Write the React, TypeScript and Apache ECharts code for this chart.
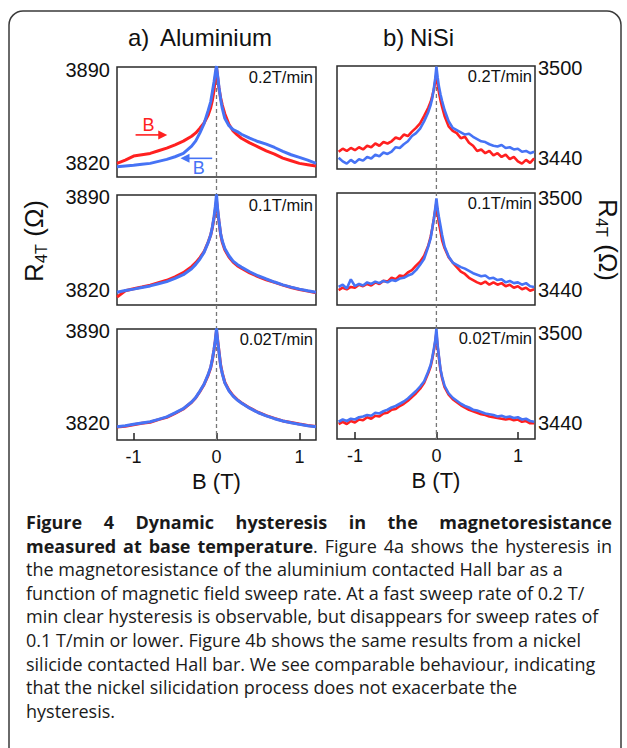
import React, { useEffect, useRef } from 'react';
import * as echarts from 'echarts';

// ---------- data ----------
const XL = [-1.2, -1.1, -1.0, -0.9, -0.8, -0.7, -0.6, -0.5, -0.4, -0.3, -0.25, -0.2, -0.15, -0.1, -0.07, -0.05, -0.03, -0.015, 0, 0.015, 0.03, 0.05, 0.07, 0.1, 0.15, 0.2, 0.25, 0.3, 0.4, 0.5, 0.6, 0.7, 0.8, 0.9, 1.0, 1.1, 1.2];
const XR = [-1.2, -1.15, -1.1, -1.05, -1.0, -0.95, -0.9, -0.85, -0.8, -0.75, -0.7, -0.65, -0.6, -0.55, -0.5, -0.45, -0.4, -0.35, -0.3, -0.25, -0.2, -0.15, -0.1, -0.07, -0.05, -0.03, -0.015, 0, 0.015, 0.03, 0.05, 0.07, 0.1, 0.15, 0.2, 0.25, 0.3, 0.35, 0.4, 0.45, 0.5, 0.55, 0.6, 0.65, 0.7, 0.75, 0.8, 0.85, 0.9, 0.95, 1.0, 1.05, 1.1, 1.15, 1.2];

// Aluminium (left column)
const AL02_UP = [3819.5, 3822, 3825, 3826, 3827, 3829, 3831, 3833.5, 3836.3, 3840, 3842.5, 3846, 3850, 3856, 3861.5, 3867, 3874.5, 3884, 3892, 3884, 3876, 3869, 3863.5, 3857, 3849, 3844, 3841, 3838.5, 3835, 3832, 3829, 3826.5, 3823.5, 3821.5, 3819.5, 3818.5, 3817.5];
const AL02_DOWN = [3817, 3817.5, 3818, 3818.8, 3819.5, 3821, 3822.5, 3824.5, 3827, 3832.5, 3836.5, 3842.5, 3849.5, 3859.5, 3866, 3873.5, 3881, 3887.5, 3893, 3885, 3877, 3868, 3861, 3853.5, 3848, 3845, 3843.5, 3841.5, 3838.5, 3836, 3834, 3831.5, 3828.5, 3826, 3824, 3822, 3819.5];
const AL01_UP = [3815, 3819.8, 3821.3, 3822.6, 3824, 3825.8, 3827.6, 3830.2, 3833.3, 3837.8, 3840.8, 3844.6, 3849, 3856.3, 3861.5, 3867, 3874, 3880, 3887, 3879.5, 3871.5, 3862, 3856, 3850.5, 3845, 3841.2, 3838.6, 3836.6, 3833.2, 3830.4, 3828, 3826, 3824, 3822.2, 3820.7, 3819.5, 3818.3];
const AL01_DOWN = [3818.7, 3820, 3821, 3822.2, 3823.4, 3825, 3826.6, 3829, 3831.8, 3836.3, 3839.5, 3843.5, 3848.5, 3856, 3861.5, 3867.5, 3875, 3882.5, 3892, 3880, 3872, 3862.5, 3857, 3851.5, 3846, 3842, 3839.5, 3837.5, 3834, 3831, 3828.6, 3826.3, 3824.2, 3822.5, 3821, 3819.8, 3818.7];
const AL002_UP = [3817, 3817.6, 3818.7, 3819.8, 3820.6, 3822.6, 3824.3, 3827.4, 3830.7, 3835.8, 3839.2, 3844, 3849.3, 3856.5, 3862, 3868, 3875.5, 3882, 3890, 3882.5, 3874.5, 3864, 3858, 3851, 3845, 3840.8, 3837.8, 3835.5, 3831.5, 3828.2, 3825.6, 3823.5, 3821.6, 3820.4, 3819.2, 3818.2, 3817.4];
const AL002_DOWN = [3817.2, 3818, 3819, 3820, 3821, 3822.8, 3824.7, 3827.7, 3831, 3836, 3839.5, 3844.3, 3849.5, 3857, 3862.5, 3868.5, 3876, 3883, 3892, 3882, 3874, 3863.5, 3857.5, 3850.5, 3844.5, 3840.5, 3837.5, 3835.2, 3831.3, 3828, 3825.5, 3823.3, 3821.5, 3820.2, 3819, 3818, 3817.2];

// NiSi (right column)
const NS02_UP = [3444, 3446, 3444.5, 3446.5, 3445, 3447, 3445.5, 3448, 3447, 3449.5, 3448, 3450.5, 3449.5, 3451, 3453.5, 3452.5, 3455.5, 3454.5, 3457.5, 3460, 3463, 3468, 3473.5, 3477.5, 3481.5, 3486, 3491, 3496, 3489, 3484, 3478.5, 3474, 3468, 3461, 3458, 3456.5, 3453, 3454, 3450, 3448, 3444.5, 3445.5, 3443, 3444.5, 3441.5, 3443, 3440.5, 3442, 3439, 3440.5, 3437.5, 3436, 3438.5, 3436.5, 3439.5];
const NS02_DOWN = [3440, 3437.5, 3436, 3438.5, 3436.5, 3439, 3438, 3440.5, 3439.5, 3442, 3441, 3443.5, 3442.5, 3444, 3447, 3446.5, 3449, 3451, 3454.5, 3456.5, 3459.5, 3464.5, 3470.5, 3475.5, 3480, 3487, 3493, 3501, 3494, 3488, 3482.5, 3478, 3472, 3464.5, 3460, 3458.5, 3457, 3455.5, 3456, 3454, 3452.5, 3451, 3450.5, 3449, 3448, 3447.5, 3448.5, 3446.5, 3447, 3445.5, 3446, 3444, 3444.5, 3443, 3444];
const NS01_UP = [3440, 3441.5, 3440.5, 3442, 3441.5, 3443.5, 3442.5, 3444, 3443, 3445, 3444, 3446, 3445.5, 3448, 3447, 3449.5, 3449, 3451.5, 3453, 3456, 3458.5, 3462.5, 3469, 3475, 3480.5, 3487, 3492, 3497, 3490, 3484, 3478.5, 3472.5, 3467.5, 3461.5, 3458, 3455, 3452, 3450.5, 3448, 3446.5, 3445, 3444, 3445.5, 3443.5, 3445, 3443.5, 3444.5, 3442.5, 3443.5, 3441.5, 3442.5, 3440.5, 3441.5, 3439.5, 3440.5];
const NS01_DOWN = [3442, 3443.5, 3441, 3447, 3442.5, 3444, 3443, 3445, 3444, 3445.5, 3444.5, 3446, 3445, 3446.5, 3446, 3447.5, 3448, 3449.5, 3450.5, 3453, 3456.5, 3460.5, 3468.5, 3474, 3480.5, 3487, 3493, 3500, 3493, 3488, 3482, 3476, 3468.5, 3462, 3458, 3456.5, 3455, 3454, 3452.5, 3451, 3450, 3449, 3449.5, 3447.5, 3448, 3446.5, 3447, 3445, 3446, 3444.5, 3445, 3443.5, 3444.5, 3442.5, 3442];
const NS002_UP = [3439.5, 3441, 3439.5, 3441.5, 3440.5, 3442.5, 3442, 3444, 3443, 3445, 3444.5, 3446.5, 3447, 3449, 3449.5, 3451.5, 3453, 3455, 3457.5, 3460, 3463, 3467, 3473.5, 3478, 3483, 3489, 3494, 3500, 3491, 3484, 3475.5, 3470, 3464, 3459, 3456, 3454, 3452, 3450.5, 3449, 3448, 3447, 3446, 3445.5, 3444.5, 3444, 3443.5, 3443, 3442.5, 3443, 3442, 3442.5, 3441, 3441.5, 3440, 3440];
const NS002_DOWN = [3441, 3442.5, 3441.5, 3443, 3442.5, 3444, 3444.5, 3445.5, 3445, 3447, 3446.5, 3448, 3449, 3450.5, 3451.5, 3453, 3454.5, 3456.5, 3459, 3461.5, 3464.5, 3468, 3474.5, 3479, 3484, 3490, 3495, 3503, 3492, 3485, 3476, 3471, 3465, 3460, 3457, 3455, 3453, 3451.5, 3450.5, 3449, 3448.5, 3447.5, 3446.5, 3446, 3445.5, 3444.5, 3445, 3444, 3444.5, 3443.5, 3444, 3442.5, 3443, 3441.5, 3441];

const LEFT_TICKS = [3820, 3890];
const RIGHT_TICKS = [3440, 3500];
const X_TICKS = [-1, 0, 1];
const RATES = ['0.2T/min', '0.1T/min', '0.02T/min'];

const CAPTION: [string, boolean][][] = [
  [['Figure 4 Dynamic hysteresis in the magnetoresistance', true]],
  [['measured at base temperature', true], ['. Figure 4a shows the hysteresis in', false]],
  [['the magnetoresistance of the aluminium contacted Hall bar as a', false]],
  [['function of magnetic field sweep rate. At a fast sweep rate of 0.2 T/', false]],
  [['min clear hysteresis is observable, but disappears for sweep rates of', false]],
  [['0.1 T/min or lower. Figure 4b shows the same results from a nickel', false]],
  [['silicide contacted Hall bar. We see comparable behaviour, indicating', false]],
  [['that the nickel silicidation process does not exacerbate the', false]],
  [['hysteresis.', false]],
];
const JUSTIFY = [true, true, false, false, false, false, false, false, false];

// ---------- layout / style ----------
const RED = '#ff2020';
const BLUE = '#4673f5';
const ARIAL = 'Arial, "Liberation Sans", sans-serif';
const CAP_FONT = '"Open Sans", sans-serif';
const CAP_SIZE = 18;
const CAP_LEFT = 26;
const CAP_RIGHT = 612;
const CAP_Y0 = 522;
const CAP_DY = 23.6;

const GRIDS = [
  { left: 117, top: 67, width: 199, height: 110 },
  { left: 117, top: 195, width: 199, height: 110 },
  { left: 117, top: 329, width: 199, height: 111 },
  { left: 337, top: 66, width: 198, height: 103 },
  { left: 337, top: 193, width: 198, height: 112 },
  { left: 337, top: 328, width: 198, height: 111 },
];
const YRANGE = [
  [3809.2, 3892.3],
  [3809.1, 3891.5],
  [3807.1, 3891.5],
  [3432.4, 3501.5],
  [3430.2, 3503.5],
  [3429.5, 3503.5],
];

const PANELS = [
  { x: XL, up: AL02_UP, down: AL02_DOWN },
  { x: XL, up: AL01_UP, down: AL01_DOWN },
  { x: XL, up: AL002_UP, down: AL002_DOWN },
  { x: XR, up: NS02_UP, down: NS02_DOWN },
  { x: XR, up: NS01_UP, down: NS01_DOWN },
  { x: XR, up: NS002_UP, down: NS002_DOWN },
];

function buildCaption(): any[] {
  const ctx = document.createElement('canvas').getContext('2d')!;
  const meas = (t: string, b: boolean) => {
    ctx.font = `${b ? 'bold ' : ''}${CAP_SIZE}px ${CAP_FONT}`;
    return ctx.measureText(t).width;
  };
  const mk = (x: number, y: number, t: string, b: boolean) => ({
    type: 'text', x, y, silent: true,
    style: { text: t, fontSize: CAP_SIZE, fontFamily: CAP_FONT, fontWeight: b ? 'bold' : 'normal', fill: '#1a1a1a', textAlign: 'left', textVerticalAlign: 'middle' },
  });
  const els: any[] = [];
  CAPTION.forEach((line, li) => {
    const y = CAP_Y0 + li * CAP_DY;
    if (JUSTIFY[li]) {
      const words: [string, boolean][][] = [];
      line.forEach(([t, b]) => {
        t.split(' ').forEach((tok, k) => {
          if (tok === '') return;
          if (k === 0 && words.length && !t.startsWith(' ')) words[words.length - 1].push([tok, b]);
          else words.push([[tok, b]]);
        });
      });
      const ww = words.map((w) => w.reduce((s, [t, b]) => s + meas(t, b), 0));
      const total = ww.reduce((a, b) => a + b, 0);
      const gap = Math.max(3, (CAP_RIGHT - CAP_LEFT - total) / (words.length - 1));
      let x = CAP_LEFT;
      words.forEach((w, i) => {
        let px = x;
        w.forEach(([t, b]) => {
          els.push(mk(px, y, t, b));
          px += meas(t, b);
        });
        x += ww[i] + gap;
      });
    } else {
      let x = CAP_LEFT;
      line.forEach(([t, b]) => {
        els.push(mk(x, y, t, b));
        x += meas(t, b);
      });
    }
  });
  return els;
}

function yTitle(x: number, y: number, rot: number) {
  const st = (t: string, fs: number) => ({ text: t, fontSize: fs, fontFamily: ARIAL, fill: '#111', textAlign: 'left', textVerticalAlign: 'middle' });
  return {
    type: 'group', x, y, rotation: rot, silent: true,
    children: [
      { type: 'text', x: -42, y: 0, style: st('R', 26) },
      { type: 'text', x: -23, y: 7, style: st('4T', 16) },
      { type: 'text', x: -4, y: 0, style: st(' (Ω)', 26) },
    ],
  };
}

export default function App() {
  const ref = useRef<HTMLDivElement>(null);
  useEffect(() => {
    document.body.style.margin = '0';
    const chart = echarts.init(ref.current!, null, { renderer: 'svg' });

    const grid = GRIDS.map((g) => ({ ...g, show: true, borderColor: '#2a2a2a', borderWidth: 1.5, backgroundColor: 'transparent', containLabel: false }));
    const xAxis = GRIDS.map((_, i) => {
      const left = i < 3;
      const bottom = i === 2 || i === 5;
      return {
        type: 'value', gridIndex: i,
        min: left ? -1.2 : -1.22, max: left ? 1.2 : 1.21,
        axisLine: { show: false },
        splitLine: { show: false },
        axisTick: { show: bottom, inside: true, length: 7, customValues: X_TICKS, lineStyle: { color: '#222', width: 1.5 } },
        axisLabel: { show: bottom, customValues: X_TICKS, formatter: (v: number) => String(v), fontSize: 18, fontFamily: ARIAL, color: '#111', margin: 8 },
        name: bottom ? 'B (T)' : '', nameLocation: 'middle', nameGap: 30,
        nameTextStyle: { fontSize: 22, fontFamily: ARIAL, color: '#111' },
      };
    });
    const yAxis = GRIDS.map((_, i) => {
      const left = i < 3;
      return {
        type: 'value', gridIndex: i, position: left ? 'left' : 'right',
        min: YRANGE[i][0], max: YRANGE[i][1],
        axisLine: { show: false }, axisTick: { show: false }, splitLine: { show: false },
        axisLabel: { customValues: left ? LEFT_TICKS : RIGHT_TICKS, formatter: (v: number) => String(v), fontSize: 20, fontFamily: ARIAL, color: '#111', margin: left ? 7 : 3 },
      };
    });
    const series: any[] = [];
    PANELS.forEach((p, i) => {
      const w = i < 3 ? 3 : 2.6;
      series.push({
        type: 'line', xAxisIndex: i, yAxisIndex: i, showSymbol: false, clip: false,
        data: p.x.map((x, k) => [x, p.up[k]]), lineStyle: { color: RED, width: w }, itemStyle: { color: RED }, z: 2,
      });
      series.push({
        type: 'line', xAxisIndex: i, yAxisIndex: i, showSymbol: false, clip: false,
        data: p.x.map((x, k) => [x, p.down[k]]), lineStyle: { color: BLUE, width: w }, itemStyle: { color: BLUE }, z: 3,
      });
    });

    chart.setOption({
      animation: false,
      backgroundColor: '#fff',
      grid, xAxis, yAxis, series,
    });

    const px = (g: number, x: number, y: number) => chart.convertToPixel({ gridIndex: g } as any, [x, y]) as number[];
    const graphic: any[] = [];
    graphic.push({ type: 'rect', shape: { x: 9, y: 11, width: 612, height: 770, r: 14 }, style: { fill: 'none', stroke: '#3a3a3a', lineWidth: 1.5 }, silent: true, z: 0 });
    const title = (x: number, t: string) => ({ type: 'text', x, y: 37, style: { text: t, fontSize: 24, fontFamily: ARIAL, fill: '#111', textAlign: 'left', textVerticalAlign: 'middle' } });
    graphic.push(title(128, 'a)'), title(160, 'Aluminium'), title(383, 'b)'), title(410, 'NiSi'));
    graphic.push(yTitle(34, 240, Math.PI / 2), yTitle(608, 241, -Math.PI / 2));
    GRIDS.forEach((g, i) => {
      graphic.push({ type: 'text', x: g.left + g.width - 3, y: g.top + 10, style: { text: RATES[i % 3], fontSize: 16.5, fontFamily: ARIAL, fill: '#111', textAlign: 'right', textVerticalAlign: 'middle' }, z: 10 });
    });
    // dashed zero-field lines across each column
    [[0, 2], [3, 5]].forEach(([a, b]) => {
      const top = px(a, 0, YRANGE[a][1]);
      const bot = px(b, 0, YRANGE[b][0]);
      graphic.push({ type: 'line', shape: { x1: top[0], y1: top[1], x2: bot[0], y2: bot[1] }, style: { stroke: '#777', lineWidth: 1.3, lineDash: [4, 3] }, z: 1, silent: true });
    });
    // sweep-direction arrows in panel a (0.2T/min)
    const arrow = (x1: number, x2: number, yv: number, color: string) => {
      const p1 = px(0, x1, yv), p2 = px(0, x2, yv);
      const dir = Math.sign(p2[0] - p1[0]);
      graphic.push({ type: 'line', shape: { x1: p1[0], y1: p1[1], x2: p2[0] - dir * 6, y2: p2[1] }, style: { stroke: color, lineWidth: 1.6 }, z: 20 });
      graphic.push({ type: 'polygon', shape: { points: [[p2[0], p2[1]], [p2[0] - dir * 9, p2[1] - 4.5], [p2[0] - dir * 9, p2[1] + 4.5]] }, style: { fill: color }, z: 20 });
    };
    arrow(-0.976, -0.594, 3841, RED);
    arrow(-0.052, -0.434, 3823.3, BLUE);
    const bl = (xv: number, yv: number, color: string) => {
      const p = px(0, xv, yv);
      graphic.push({ type: 'text', x: p[0], y: p[1], style: { text: 'B', fontSize: 18, fontFamily: ARIAL, fill: color, textAlign: 'center', textVerticalAlign: 'middle' }, z: 20 });
    };
    bl(-0.82, 3848.5, RED);
    bl(-0.213, 3815.8, BLUE);
    graphic.push(...buildCaption());

    chart.setOption({ graphic });
    return () => chart.dispose();
  }, []);
  return <div ref={ref} style={{ width: 627, height: 748 }} />;
}
